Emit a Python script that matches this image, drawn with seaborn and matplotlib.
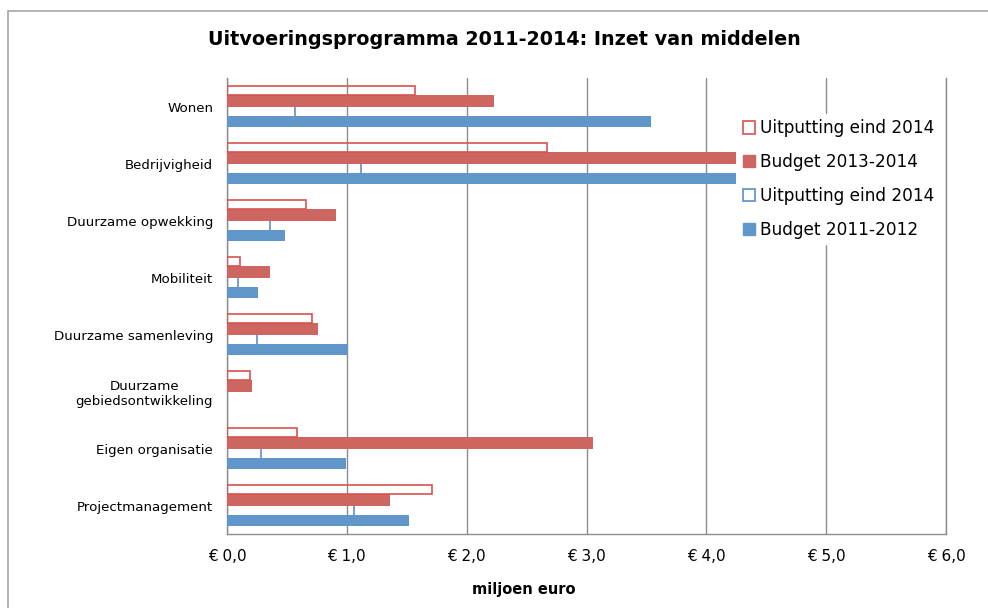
import matplotlib
matplotlib.use("Agg")
import matplotlib.pyplot as plt
import matplotlib.patches as mpatches
import numpy as np
import pandas as pd
import seaborn as sns

# Data (miljoen euro)
categories = ["Wonen", "Bedrijvigheid", "Duurzame opwekking", "Mobiliteit",
              "Duurzame samenleving", "Duurzame\ngebiedsontwikkeling",
              "Eigen organisatie", "Projectmanagement"]
uitputting_1314 = [1.57, 2.67, 0.66, 0.11, 0.71, 0.19, 0.58, 1.71]
budget_1314 = [2.23, 4.25, 0.91, 0.36, 0.76, 0.21, 3.05, 1.36]
uitputting_1112 = [0.57, 1.12, 0.36, 0.09, 0.25, 0.0, 0.28, 1.06]
budget_1112 = [3.54, 4.25, 0.48, 0.26, 1.01, 0.0, 0.99, 1.52]
xticks = [0, 1, 2, 3, 4, 5, 6]
xticklabels = ["€ 0,0", "€ 1,0", "€ 2,0", "€ 3,0", "€ 4,0", "€ 5,0", "€ 6,0"]

RED = "#CD6661"
RED_EDGE = "#D9534F"
BLUE = "#6096CA"
BLUE_EDGE = "#5B8FC8"
GRID = "#8c8c8c"

sns.set_theme(style="white")
plt.rcParams["font.family"] = ["DejaVu Sans"]
plt.rcParams["text.color"] = "black"
plt.rcParams["xtick.color"] = "black"
plt.rcParams["ytick.color"] = "black"

fig = plt.figure(figsize=(9.88, 6.08), dpi=100)
ax = fig.add_axes([0.2298, 0.1217, 0.7277, 0.75])

pos = np.arange(len(categories))

# bar layout within each category band (offset of centre, height)
series = [
    # name, values, offset, height, filled, zorder
    ("Uitputting eind 2014 (b)", uitputting_1112, 0.08, 0.20, False, 2),
    ("Budget 2013-2014", budget_1314, -0.094, 0.212, True, 3),
    ("Budget 2011-2012", budget_1112, 0.267, 0.20, True, 3),
    ("Uitputting eind 2014 (r)", uitputting_1314, -0.278, 0.156, False, 4),
]

for name, vals, off, h, filled, z in series:
    df = pd.DataFrame({"y": pos + off, "x": vals})
    df = df[df["x"] > 0]
    if filled:
        col = RED if "2013" in name else BLUE
        sns.barplot(data=df, x="x", y="y", orient="h", native_scale=True,
                    width=h, color=col, saturation=1, errorbar=None,
                    linewidth=0, ax=ax, zorder=z)
    else:
        ec = RED_EDGE if "(r)" in name else BLUE_EDGE
        sns.barplot(data=df, x="x", y="y", orient="h", native_scale=True,
                    width=h, fill=False, color=ec, errorbar=None,
                    linewidth=1.2, ax=ax, zorder=z)

ax.set_xlim(0, 6)
ax.set_ylim(len(categories) - 0.5, -0.5)
ax.set_xticks(xticks)
ax.set_xticklabels(xticklabels, fontsize=11)
ax.set_yticks(pos)
ax.set_yticklabels(categories, fontsize=9.6, ha="right", multialignment="center")
ax.set_yticks(np.arange(len(categories) + 1) - 0.5, minor=True)
ax.tick_params(axis="y", which="major", length=0, pad=10)
ax.tick_params(axis="y", which="minor", length=5, color=GRID, direction="out", width=1)
ax.tick_params(axis="x", which="major", length=5, color=GRID, direction="out", width=1, pad=6)
ax.set_xlabel("")
ax.set_ylabel("")

ax.grid(axis="x", color=GRID, linewidth=1)
ax.set_axisbelow(True)
ax.spines["top"].set_visible(False)
for s in ["left", "bottom", "right"]:
    ax.spines[s].set_color(GRID)
    ax.spines[s].set_linewidth(1)

# legend
handles = [
    mpatches.Patch(facecolor="white", edgecolor=RED_EDGE, linewidth=1.2, label="Uitputting eind 2014"),
    mpatches.Patch(facecolor=RED, edgecolor=RED, label="Budget 2013-2014"),
    mpatches.Patch(facecolor="white", edgecolor=BLUE_EDGE, linewidth=1.2, label="Uitputting eind 2014"),
    mpatches.Patch(facecolor=BLUE, edgecolor=BLUE, label="Budget 2011-2012"),
]
leg = fig.legend(handles=handles, loc="upper left", bbox_to_anchor=(0.738, 0.826),
                 frameon=True, facecolor="white", edgecolor="white", framealpha=1,
                 fontsize=12.2, handlelength=0.75, handleheight=0.75,
                 handletextpad=0.25, labelspacing=0.93, borderpad=0.3)

fig.text(0.511, 0.935, "Uitvoeringsprogramma 2011-2014: Inzet van middelen",
         ha="center", va="center", fontsize=13.8, fontweight="bold")
fig.text(0.530, 0.030, "miljoen euro", ha="center", va="center",
         fontsize=10.5, fontweight="bold")

# chart border
fig.patches.append(mpatches.Rectangle((7.5 / 988, -0.01), 1.0, 1 - 10.5 / 608 + 0.01,
                                      transform=fig.transFigure, fill=False,
                                      edgecolor="#a6a6a6", linewidth=1.2))

fig.savefig("out.png", dpi=100)
